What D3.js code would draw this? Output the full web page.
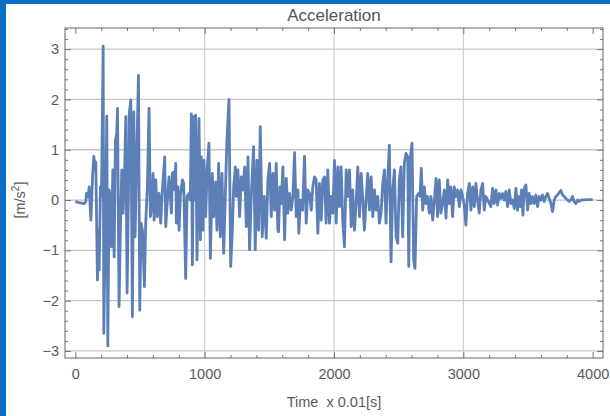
<!DOCTYPE html>
<html>
<head>
<meta charset="utf-8">
<script src="https://cdn.jsdelivr.net/npm/d3@7"></script>
<style>
  html, body { margin: 0; padding: 0; background: #fff; }
  svg { display: block; font-family: "Liberation Sans", Arial, sans-serif; }
  .tick text { fill: #5a5a5a; font-size: 14.5px; }
</style>
</head>
<body>
<svg id="chart" width="610" height="416"></svg>
<script>
// sample index (x 0.01 s) and acceleration [m/s^2]
const timeSteps = [
  0, 30, 68, 81, 86, 99, 107, 120, 133, 143, 153, 158, 171, 179, 184, 194, 202, 215, 220, 236,
  243, 251, 261, 269, 279, 290, 300, 310, 320, 326, 338, 349, 359, 369, 380, 390, 400, 411, 416, 429,
  441, 452, 462, 472, 488, 498, 508, 519, 534, 544, 557, 570, 580, 591, 601, 609, 622, 634, 647, 660,
  673, 691, 699, 712, 724,
  743, 750, 761, 768, 776, 781, 794, 802, 812, 828, 838, 853, 864, 879, 889, 897, 905, 915, 923, 930,
  941, 956, 967, 974, 987, 995, 1008, 1018, 1033, 1044, 1059, 1069, 1085, 1095, 1108, 1121, 1134, 1147, 1160, 1172,
  1188, 1201, 1214, 1224, 1237, 1245, 1257, 1270, 1283, 1296, 1309, 1322, 1335, 1347, 1360, 1378, 1391, 1404, 1417, 1430,
  1445, 1461, 1476, 1489, 1502, 1515, 1528, 1541, 1553, 1566,
  1571, 1582, 1592, 1605, 1618, 1631, 1643, 1656, 1669, 1682, 1695, 1708, 1721, 1728, 1741, 1757, 1772, 1785, 1798, 1811,
  1824, 1836, 1849, 1862, 1875, 1888, 1901, 1914, 1927, 1939, 1952, 1965, 1978, 1991, 2004, 2017, 2030, 2042, 2055, 2068,
  2081, 2094, 2107, 2120, 2133, 2145, 2158, 2171, 2184, 2197, 2210, 2223, 2235, 2248, 2261, 2274, 2287, 2300, 2313, 2326,
  2338, 2351,
  2364, 2377, 2390, 2402, 2415, 2428, 2441, 2454, 2467, 2480, 2493, 2505, 2518, 2531, 2544, 2557, 2570, 2578, 2588, 2603,
  2616, 2626, 2639, 2655, 2665, 2675, 2686, 2698, 2711, 2724, 2737, 2750, 2763, 2776, 2789, 2801, 2814, 2827, 2840, 2853,
  2866, 2879, 2892, 2904, 2917, 2930, 2943, 2956, 2969, 2982, 2995, 3007, 3020, 3033, 3046, 3059, 3072, 3085, 3097, 3110,
  3123, 3136, 3149, 3162, 3175,
  3213, 3226, 3239, 3252, 3265, 3278, 3291, 3304, 3316, 3329, 3342, 3355, 3368, 3381, 3394, 3407, 3419, 3427, 3440, 3450,
  3461, 3471, 3484, 3497, 3509, 3522, 3535, 3548, 3561, 3574, 3587, 3600, 3612, 3625, 3638, 3651, 3664, 3677, 3690, 3703,
  3715, 3728, 3754, 3767, 3780, 3793, 3818, 3831, 3844, 3857, 3870, 3883, 3896, 3909, 3960, 4000
];
const accel = [
  -0.03, -0.05, -0.07, -0.03, 0.13, 0.07, 0.26, -0.40, 0.46, 0.87, 0.60, 0.76, -1.59, -0.60, -1.39, 0.26, 0.07, 3.06, -2.65, 0.20,
  1.67, -2.90, 0.20, 0.07, -0.93, 0.60, -1.13, 1.19, 1.32, 1.82, -2.12, -0.46, 0.60, -0.26, 0.46, 1.66, -1.85, 0.20, 1.69, 1.99,
  -2.32, 1.75, -0.73, 0.53, 2.48, -2.19, -0.46, -0.60, -1.72, -0.46, 0.26, 1.82, -0.33, -0.13, 0.53, -0.40, 0.40, -0.33, 0.13, -0.46,
  0.20, 0.86, -0.53, 0.00, 0.46,
  -0.26, 0.53, 0.56, 0.20, 0.73, -0.46, 0.26, -0.60, 0.07, 0.40, 0.33, -1.56, 0.07, 0.13, 0.00, 1.71, -1.29, 1.66, 0.00, 1.69,
  -1.19, 1.62, -0.79, 0.86, -0.60, 0.79, -0.33, 0.53, 1.13, -1.16, 0.53, -0.33, 0.36, -0.60, 0.73, -0.73, 0.53, -1.06, 0.13, 1.19,
  2.00, -1.32, -0.60, 0.26, 0.66, 0.07, 0.60, -0.33, 0.46, 0.20, 0.66, -0.53, 0.86, -0.99, 0.07, 1.06, -0.99, 0.79, -0.60, 1.46,
  -0.73, 0.07, -0.76, 0.40, 0.73, -0.33, 0.53, -0.20, 0.73, -0.60,
  -0.63, 0.26, -0.07, 0.66, -0.79, 0.43, -0.26, 0.13, -0.20, 0.07, 0.94, -0.33, 0.20, -0.66, 0.00, -0.20, 0.87, -0.46, 0.20, 0.13,
  -0.20, 0.26, 0.46, 0.40, -0.66, 0.33, -0.40, 0.40, 0.46, -0.46, 0.60, -0.46, 0.07, -0.26, 0.79, -0.46, 0.66, -0.13, 0.66, -0.43,
  -0.93, 0.60, 0.07, 0.60, -0.53, 0.20, -0.60, -0.07, 0.66, -0.33, 0.53, 0.00, -0.60, 0.00, 0.53, -0.20, 0.46, -0.33, 0.20, -0.20,
  0.07, -0.46,
  -0.26, 0.33, 0.60, -0.46, 0.40, 1.09, -1.23, 0.20, 0.60, -0.73, -0.86, 0.40, 0.66, -0.73, 0.73, 0.93, 0.86, -1.32, 0.79, 1.13,
  -1.19, -1.36, 0.07, 0.13, 0.07, 0.63, -0.20, 0.26, -0.07, 0.07, -0.26, 0.07, -0.40, 0.00, 0.43, -0.33, 0.40, -0.26, -0.07, 0.20,
  -0.36, 0.40, -0.07, 0.26, -0.33, 0.26, 0.07, 0.20, -0.13, 0.20, 0.07, -0.10, -0.50, 0.13, 0.33, -0.20, 0.26, -0.13, 0.33, 0.00,
  -0.26, 0.20, 0.33, -0.20, 0.07,
  -0.13, 0.23, -0.07, 0.20, -0.10, 0.13, 0.03, 0.13, 0.00, 0.17, -0.13, 0.20, -0.07, 0.00, -0.17, 0.23, -0.20, 0.07, -0.13, 0.20,
  -0.30, 0.23, 0.30, -0.20, 0.13, -0.07, 0.07, -0.07, 0.10, -0.13, 0.07, 0.00, 0.10, -0.03, 0.07, 0.13, 0.03, -0.07, -0.23, 0.00,
  0.07, 0.10, 0.19, 0.10, 0.07, 0.03, -0.03, 0.00, 0.07, -0.03, -0.07, 0.00, -0.03, 0.00, 0.01, 0.01
];

const xMajor = [0, 1000, 2000, 3000, 4000];
const xMinor = [200, 400, 600, 800, 1200, 1400, 1600, 1800, 2200, 2400, 2600, 2800, 3200, 3400, 3600, 3800];
const xGrid = [1000, 2000, 3000];
const yMajor = [-3, -2, -1, 0, 1, 2, 3];
const yMinor = [-3.0, -2.8, -2.6, -2.4, -2.2, -1.8, -1.6, -1.4, -1.2, -0.8, -0.6, -0.4, -0.2,
  0.2, 0.4, 0.6, 0.8, 1.2, 1.4, 1.6, 1.8, 2.2, 2.4, 2.6, 2.8, 3.2, 3.4];

const svg = d3.select("#chart");
const width = 610, height = 416;
const margin = {top: 28, right: 7, bottom: 58, left: 65};

// blue page border from the source document
svg.append("rect").attr("x", 0).attr("y", 0).attr("width", 6).attr("height", height).attr("fill", "#0a6fc2");
svg.append("rect").attr("x", 0).attr("y", 0).attr("width", width).attr("height", 4).attr("fill", "#0a6fc2");

const x = d3.scaleLinear().domain([-80, 4080]).range([margin.left, width - margin.right]);
const y = d3.scaleLinear().domain([-3.14, 3.42]).range([height - margin.bottom, margin.top]);

const [x0, x1] = x.range();
const [y0, y1] = y.range();

// grid
svg.append("g").selectAll("line").data(xGrid).join("line")
    .attr("x1", d => x(d)).attr("x2", d => x(d))
    .attr("y1", y1).attr("y2", y0)
    .attr("stroke", "#c6c6c6").attr("stroke-width", 1);
svg.append("g").selectAll("line").data(yMajor).join("line")
    .attr("x1", x0).attr("x2", x1)
    .attr("y1", d => y(d)).attr("y2", d => y(d))
    .attr("stroke", "#c6c6c6").attr("stroke-width", 1.3);

// frame ticks, pointing inward
const tickStyle = g => {
  g.select(".domain").remove();
  g.selectAll(".tick line").attr("stroke", "#777");
};
svg.append("g").attr("transform", `translate(0,${y0})`)
    .call(d3.axisBottom(x).tickValues(xMajor).tickSize(-6).tickPadding(11).tickFormat(d3.format("d")))
    .call(tickStyle);
svg.append("g").attr("transform", `translate(0,${y0})`)
    .call(d3.axisBottom(x).tickValues(xMinor).tickSize(-3).tickFormat(""))
    .call(tickStyle);
svg.append("g").attr("transform", `translate(0,${y1})`)
    .call(d3.axisTop(x).tickValues(xMajor).tickSize(-6).tickFormat(""))
    .call(tickStyle);
svg.append("g").attr("transform", `translate(0,${y1})`)
    .call(d3.axisTop(x).tickValues(xMinor).tickSize(-3).tickFormat(""))
    .call(tickStyle);
svg.append("g").attr("transform", `translate(${x0},0)`)
    .call(d3.axisLeft(y).tickValues(yMajor).tickSize(-6).tickPadding(6)
      .tickFormat(d => d < 0 ? "\u2212" + Math.abs(d) : d))
    .call(tickStyle);
svg.append("g").attr("transform", `translate(${x0},0)`)
    .call(d3.axisLeft(y).tickValues(yMinor).tickSize(-3).tickFormat(""))
    .call(tickStyle);
svg.append("g").attr("transform", `translate(${x1},0)`)
    .call(d3.axisRight(y).tickValues(yMajor).tickSize(-6).tickFormat(""))
    .call(tickStyle);
svg.append("g").attr("transform", `translate(${x1},0)`)
    .call(d3.axisRight(y).tickValues(yMinor).tickSize(-3).tickFormat(""))
    .call(tickStyle);

// the record
const points = timeSteps.map((t, i) => [t, accel[i]]);
svg.append("path")
    .datum(points)
    .attr("fill", "none")
    .attr("stroke", "#5b7fb6")
    .attr("stroke-width", 2.8)
    .attr("stroke-linejoin", "round")
    .attr("d", d3.line().x(d => x(d[0])).y(d => y(d[1])));

// frame
svg.append("rect")
    .attr("x", x0).attr("y", y1)
    .attr("width", x1 - x0).attr("height", y0 - y1)
    .attr("fill", "none").attr("stroke", "#666").attr("stroke-width", 1);

// labels
svg.append("text")
    .attr("x", (x0 + x1) / 2).attr("y", 21)
    .attr("text-anchor", "middle")
    .attr("fill", "#555").attr("font-size", 17)
    .text("Acceleration");

svg.append("text")
    .attr("x", (x0 + x1) / 2).attr("y", 407)
    .attr("text-anchor", "middle")
    .attr("fill", "#5a5a5a").attr("font-size", 14.5)
    .style("white-space", "pre")
    .text("Time  x 0.01[s]");

const yl = svg.append("text")
    .attr("transform", `translate(25,${y(0)}) rotate(-90)`)
    .attr("text-anchor", "middle")
    .attr("fill", "#5a5a5a").attr("font-size", 14.5);
yl.append("tspan").text("[m/s");
yl.append("tspan").attr("font-size", 10).attr("dy", -6).text("2");
yl.append("tspan").attr("dy", 6).text("]");
</script>
</body>
</html>
